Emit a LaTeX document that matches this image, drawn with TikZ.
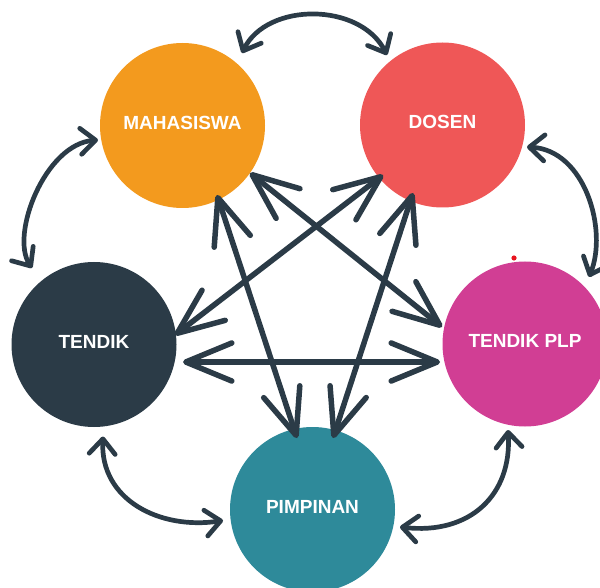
\documentclass[tikz,border=0pt]{standalone}
\usepackage{fontspec}
\setmainfont{Liberation Sans}
\usetikzlibrary{arrows.meta,calc}
\definecolor{cOrange}{HTML}{F39A1E}
\definecolor{cRed}{HTML}{EF5757}
\definecolor{cNavy}{HTML}{2B3B47}
\definecolor{cMagenta}{HTML}{D13E94}
\definecolor{cTeal}{HTML}{2E8A9A}
\definecolor{cDot}{HTML}{E8141E}
\begin{document}
\begin{tikzpicture}[x=1pt,y=-1pt,
  circ/.style={circle, inner sep=0pt, outer sep=0pt, minimum size=165pt,
    text=white, font=\fontsize{19}{22}\selectfont\bfseries, text depth=6pt},
  bigarrow/.style={line width=5.5pt, draw=cNavy, line cap=round,
    {Straight Barb[length=46pt,width=38pt,round]}-{Straight Barb[length=46pt,width=38pt,round]}},
  smallarrow/.style={line width=4.7pt, draw=cNavy, line cap=round,
    {Straight Barb[length=15pt,width=26pt,round]}-{Straight Barb[length=15pt,width=26pt,round]}}
]
\useasboundingbox (0,0) rectangle (600,588);
\clip (0,0) rectangle (600,588);

\node[circ, fill=cOrange]  (M)  at (182.5,125.5) {MAHASISWA};
\node[circ, fill=cRed]     (D)  at (442.5,125)   {DOSEN};
\node[circ, fill=cNavy]    (T)  at (94,344.5)    {TENDIK};
\node[circ, fill=cMagenta] (P)  at (525,344)     {TENDIK PLP};
\node[circ, fill=cTeal]    (PI) at (312.5,509.5) {PIMPINAN};

\fill[cDot] (514,258) circle (2.6pt);

% inner straight arrows
\draw[bigarrow] ($(M)+(67.5,47.5)$) -- ($(P)+(-83,-17)$);
\draw[bigarrow] ($(D)+(-59.5,50)$) -- ($(T)+(81,-9.5)$);
\draw[bigarrow] ($(M)+(34.5,69.5)$) -- ($(PI)+(-15.5,-71.5)$);
\draw[bigarrow] ($(D)+(-29.5,68)$) -- ($(PI)+(20.5,-71.5)$);
\draw[bigarrow] ($(T)+(89,17.5)$) -- ($(P)+(-85,18)$);

% outer curved arrows
\draw[smallarrow] ($(M)+(59.5,-72.5)$) .. controls (267,2) and (360,2) .. ($(D)+(-55.5,-70)$);
\draw[smallarrow] ($(M)+(-84.5,14.5)$) .. controls (45,144) and (10,235) .. ($(T)+(-62,-76.5)$);
\draw[smallarrow] ($(D)+(84.5,22)$) .. controls (585,150) and (608,230) .. ($(P)+(64,-67)$);
\draw[smallarrow] ($(T)+(9,92)$) .. controls (100,500) and (160,530) .. ($(PI)+(-89.5,11)$);
\draw[smallarrow] ($(P)+(-17,86)$) .. controls (512,495) and (470,535) .. ($(PI)+(87.5,17.5)$);
\end{tikzpicture}
\end{document}
